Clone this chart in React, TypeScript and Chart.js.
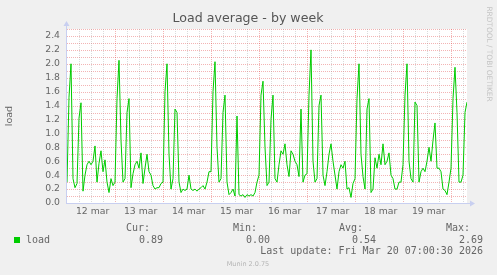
import { useEffect, useRef } from 'react';
import { Chart, registerables } from 'chart.js';

Chart.register(...registerables);

// Hours since Mon 12 Mar 00:00, one sample per hour
const dayLabels = ['12 mar', '13 mar', '14 mar', '15 mar', '16 mar', '17 mar', '18 mar', '19 mar'];
const yTickValues = [0, 0.2, 0.4, 0.6, 0.8, 1.0, 1.2, 1.4, 1.6, 1.8, 2.0, 2.2, 2.4];
const loadValues = [
  0.30, 1.52, 2.00, 0.35, 0.22, 0.28, 1.22, 1.44, 0.17, 0.40, 0.55, 0.60, 0.55, 0.60, 0.82, 0.30,
  0.57, 0.75, 0.45, 0.62, 0.30, 0.15, 0.35, 0.25, 0.30, 1.50, 2.05, 0.90, 0.30, 0.35, 1.30, 1.50,
  0.22, 0.42, 0.55, 0.60, 0.50, 0.72, 0.28, 0.50, 0.70, 0.45, 0.40, 0.25, 0.20, 0.22, 0.22, 0.28,
  0.30, 1.60, 2.00, 0.70, 0.20, 0.35, 1.35, 1.30, 0.30, 0.15, 0.20, 0.18, 0.20, 0.40, 0.20, 0.18,
  0.20, 0.17, 0.20, 0.22, 0.25, 0.20, 0.30, 0.45, 0.45, 1.60, 2.03, 0.80, 0.30, 0.35, 1.30, 1.55,
  0.30, 0.12, 0.15, 0.20, 0.10, 1.25, 0.12, 0.10, 0.12, 0.08, 0.12, 0.10, 0.12, 0.10, 0.15, 0.30,
  0.40, 1.55, 1.75, 0.80, 0.25, 0.30, 1.20, 1.55, 0.35, 0.30, 0.55, 0.75, 0.70, 0.85, 0.55, 0.38,
  0.75, 0.70, 0.60, 0.55, 0.38, 1.35, 0.30, 0.40, 0.42, 1.55, 2.20, 0.60, 0.30, 0.35, 1.40, 1.55,
  0.40, 0.25, 0.45, 0.70, 0.85, 0.60, 0.40, 0.20, 0.45, 0.55, 0.50, 0.60, 0.20, 0.22, 0.08, 0.28,
  0.35, 1.50, 2.00, 0.70, 0.38, 0.20, 1.35, 1.50, 0.15, 0.20, 0.65, 0.50, 0.70, 0.55, 0.85, 0.55,
  0.60, 0.72, 0.40, 0.35, 0.20, 0.20, 0.30, 0.30, 0.55, 1.55, 2.00, 0.60, 0.35, 0.30, 1.45, 1.40,
  0.30, 0.45, 0.50, 0.45, 0.60, 0.80, 0.60, 0.90, 1.15, 0.50, 0.50, 0.45, 0.20, 0.18, 0.12, 0.30,
  0.50, 1.50, 1.95, 1.30, 0.30, 0.30, 0.40, 1.30, 1.45,
];
const legendName = 'load';
const legendHeads = ['Cur:', 'Min:', 'Avg:', 'Max:'];
const legendValues = ['0.89', '0.00', '0.54', '2.69'];
const lastUpdate = 'Last update: Fri Mar 20 07:00:30 2026';
const titleText = 'Load average - by week';
const yTitle = 'load';
const footer = 'Munin 2.0.75';
const watermark = 'RRDTOOL / TOBI OETIKER';

const FONT = "'DejaVu Sans', sans-serif";
const MONO = "'DejaVu Sans Mono', monospace";
const TXT = '#666666';
const LINE = '#00cc00';
const AXIS = '#c8cff0';
const MGRID = 'rgba(222,48,48,0.36)';
const GRID = 'rgba(143,143,143,0.32)';

const muninPlugin = {
  id: 'muninDecor',
  beforeDraw(chart: any) {
    const { ctx, chartArea: a, scales } = chart;
    const xs = scales.x;
    const ys = scales.y;
    ctx.save();
    ctx.fillStyle = '#f0f0f0';
    ctx.fillRect(0, 0, chart.width, chart.height);
    ctx.fillStyle = '#ffffff';
    ctx.fillRect(a.left, a.top, a.right - a.left, a.bottom - a.top);
    ctx.lineWidth = 1;
    ctx.setLineDash([1, 1]);
    // horizontal grid every 0.1
    for (let k = 1; k <= 25; k++) {
      const py = Math.round(ys.getPixelForValue(k / 10)) + 0.5;
      ctx.strokeStyle = MGRID;
      ctx.beginPath();
      ctx.moveTo(a.left, py);
      ctx.lineTo(a.right, py);
      ctx.stroke();
    }
    // vertical grid every 6 hours
    for (let h = 6; h <= xs.max; h += 6) {
      const px = Math.round(xs.getPixelForValue(h)) + 0.5;
      ctx.strokeStyle = h % 24 === 0 ? MGRID : GRID;
      ctx.beginPath();
      ctx.moveTo(px, a.top);
      ctx.lineTo(px, a.bottom);
      ctx.stroke();
    }
    ctx.restore();
  },
  afterDatasetsDraw(chart: any) {
    const { ctx, chartArea: a } = chart;
    ctx.save();
    ctx.strokeStyle = AXIS;
    ctx.fillStyle = AXIS;
    ctx.lineWidth = 1;
    ctx.beginPath();
    ctx.moveTo(a.left - 0.5, a.bottom + 1);
    ctx.lineTo(a.left - 0.5, a.top - 4);
    ctx.moveTo(a.left - 1, a.bottom + 0.5);
    ctx.lineTo(a.right + 4, a.bottom + 0.5);
    ctx.stroke();
    ctx.beginPath();
    ctx.moveTo(a.left - 3.5, a.top - 3);
    ctx.lineTo(a.left + 2.5, a.top - 3);
    ctx.lineTo(a.left - 0.5, a.top - 8);
    ctx.closePath();
    ctx.fill();
    ctx.beginPath();
    ctx.moveTo(a.right + 3, a.bottom - 2.5);
    ctx.lineTo(a.right + 3, a.bottom + 3.5);
    ctx.lineTo(a.right + 8, a.bottom + 0.5);
    ctx.closePath();
    ctx.fill();
    ctx.restore();
  },
  afterDraw(chart: any) {
    const { ctx, chartArea: a } = chart;
    ctx.save();
    ctx.textBaseline = 'middle';
    // title
    ctx.fillStyle = '#555555';
    ctx.font = `12.6px ${FONT}`;
    ctx.textAlign = 'center';
    ctx.fillText(titleText, 248, 19);
    // y title
    ctx.save();
    ctx.translate(10, (a.top + a.bottom) / 2);
    ctx.rotate(-Math.PI / 2);
    ctx.fillStyle = TXT;
    ctx.font = `9.5px ${FONT}`;
    ctx.fillText(yTitle, 0, 0);
    ctx.restore();
    // watermark
    ctx.save();
    ctx.translate(489, 54);
    ctx.rotate(Math.PI / 2);
    ctx.fillStyle = '#c4c4c4';
    ctx.font = `7.4px ${FONT}`;
    ctx.fillText(watermark, 0, 0);
    ctx.restore();
    // legend
    ctx.fillStyle = LINE;
    ctx.fillRect(14, 237, 6, 6);
    ctx.fillStyle = TXT;
    ctx.font = `10px ${MONO}`;
    ctx.textAlign = 'left';
    ctx.fillText(legendName, 26, 240);
    ctx.textAlign = 'right';
    const headRight = [150, 257, 363, 470];
    legendHeads.forEach((t, i) => ctx.fillText(t, headRight[i], 228));
    legendValues.forEach((t, i) => ctx.fillText(t, headRight[i] + 13, 240));
    ctx.fillText(lastUpdate, 483, 251.5);
    ctx.textAlign = 'center';
    ctx.fillStyle = '#b4b4b4';
    ctx.font = `6.5px ${FONT}`;
    ctx.fillText(footer, 248, 264);
    ctx.restore();
  },
};

export default function App() {
  const ref = useRef<HTMLCanvasElement | null>(null);
  useEffect(() => {
    document.body.style.margin = '0';
    const canvas = ref.current;
    if (!canvas) return;
    const chart = new Chart(canvas, {
      type: 'line',
      data: {
        datasets: [
          {
            label: legendName,
            data: loadValues.map((v, i) => ({ x: i, y: v })),
            borderColor: LINE,
            borderWidth: 1,
            pointRadius: 0,
            tension: 0,
            fill: false,
          },
        ],
      },
      options: {
        animation: false,
        responsive: false,
        devicePixelRatio: 1,
        layout: { padding: { top: 29, right: 30, bottom: 0, left: 0 } },
        plugins: { legend: { display: false }, tooltip: { enabled: false }, title: { display: false } },
        scales: {
          x: {
            type: 'linear',
            min: 0,
            max: 200,
            grid: { display: false, drawTicks: false },
            border: { display: false },
            afterFit: (s: any) => { s.height = 72; },
            afterBuildTicks: (s: any) => {
              s.ticks = dayLabels.map((_, k) => ({ value: 12.8 + 24 * k }));
            },
            ticks: {
              autoSkip: false,
              maxRotation: 0,
              padding: 3,
              color: TXT,
              font: { family: FONT, size: 9.3 },
              callback: (v: any) => dayLabels[Math.round((Number(v) - 12.8) / 24)],
            },
          },
          y: {
            type: 'linear',
            min: 0,
            max: 2.5,
            grid: { display: false, drawTicks: false },
            border: { display: false },
            afterFit: (s: any) => { s.width = 67; },
            afterBuildTicks: (s: any) => {
              s.ticks = yTickValues.map((v) => ({ value: v }));
            },
            ticks: {
              autoSkip: false,
              padding: 7,
              color: TXT,
              font: { family: FONT, size: 9.3 },
              callback: (v: any) => Number(v).toFixed(1),
            },
          },
        },
      },
      plugins: [muninPlugin],
    });
    return () => chart.destroy();
  }, []);
  return (
    <div style={{ position: 'absolute', left: 0, top: 0, width: 497, height: 275 }}>
      <canvas ref={ref} width={497} height={275} style={{ width: 497, height: 275, display: 'block' }} />
    </div>
  );
}
